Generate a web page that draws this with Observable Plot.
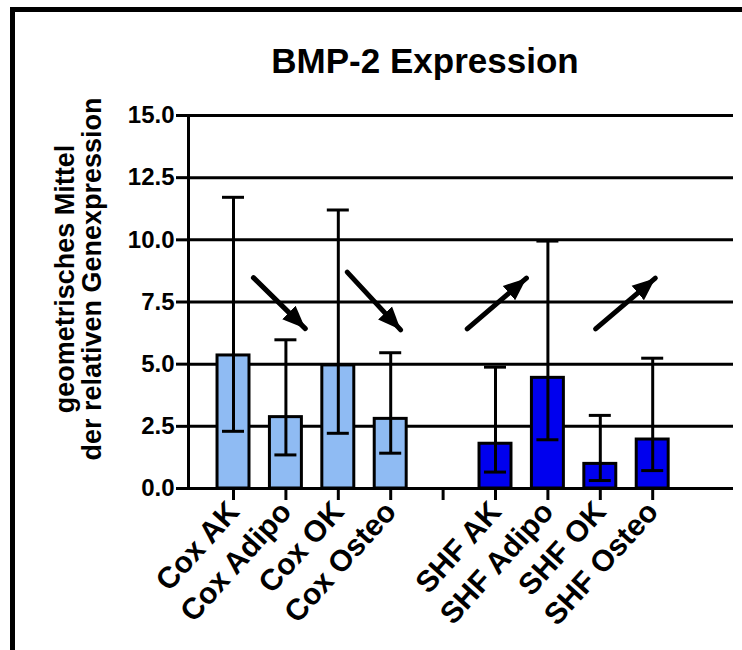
<!DOCTYPE html>
<html>
<head>
<meta charset="utf-8">
<script src="https://cdn.jsdelivr.net/npm/d3@7"></script>
<script src="https://cdn.jsdelivr.net/npm/@observablehq/plot@0.6"></script>
<style>
  body { margin: 0; background: #fff; font-family: "Liberation Sans", Arial, sans-serif; }
  #wrap { position: relative; width: 742px; height: 650px; overflow: hidden; background: #fff; }
  #frame { position: absolute; left: 10px; top: 7px; width: 800px; height: 700px;
           border-left: 5px solid #000; border-top: 5px solid #000; box-sizing: border-box; }
  #title { position: absolute; left: 425px; top: 43px; transform: translateX(-50%);
           font: bold 35px/35px "Liberation Sans", Arial, sans-serif; color: #000; white-space: nowrap; }
  #chart { position: absolute; left: 0; top: 90px; }
</style>
</head>
<body>
<div id="wrap">
  <div id="frame"></div>
  <div id="title">BMP-2 Expression</div>
  <div id="chart"></div>
</div>
<script>
// ---- data ----
const tickLabels = ["Cox AK", "Cox Adipo", "Cox OK", "Cox Osteo", "", "SHF AK", "SHF Adipo", "SHF OK", "SHF Osteo"];
const groups = ["Cox AK", "Cox Adipo", "Cox OK", "Cox Osteo", "SHF AK", "SHF Adipo", "SHF OK", "SHF Osteo"];
const series = ["Cox", "Cox", "Cox", "Cox", "SHF", "SHF", "SHF", "SHF"];
const means = [5.35, 2.87, 4.95, 2.80, 1.80, 4.45, 0.99, 1.97];
const upper = [11.71, 5.98, 11.2, 5.46, 4.88, 9.95, 2.94, 5.24];
const lower = [2.30, 1.35, 2.22, 1.42, 0.66, 1.96, 0.32, 0.72];
const yTicks = [0, 2.5, 5, 7.5, 10, 12.5, 15];
const seriesNames = ["Cox", "SHF"];
const seriesColors = ["#8fbbf3", "#0000ee"];
// trend arrows (annotation, in data units: slot index / expression value)
const arrowX1 = [0.38, 2.17, 4.46, 6.91];
const arrowY1 = [8.48, 8.70, 6.42, 6.42];
const arrowX2 = [1.37, 3.19, 5.59, 8.05];
const arrowY2 = [6.43, 6.38, 8.46, 8.46];
const yTitle = "geometrisches Mittel\nder relativen Genexpression";

// ---- build tables ----
const bars = groups.map((g, k) => ({
  group: g, slot: tickLabels.indexOf(g), series: series[k],
  mean: means[k], hi: upper[k], lo: lower[k]
}));
const arrows = arrowX1.map((_, k) => ({x1: arrowX1[k], y1: arrowY1[k], x2: arrowX2[k], y2: arrowY2[k]}));

const half = 0.305;   // half bar width in slot units
const capHalf = 0.21; // half cap width

function headMarker(color, context) {
  const m = d3.create("svg:marker")
    .attr("viewBox", "-13 -10 24 20")
    .attr("markerWidth", 24).attr("markerHeight", 20)
    .attr("markerUnits", "userSpaceOnUse")
    .attr("orient", "auto")
    .attr("refX", 10).attr("refY", 0);
  m.append("path").attr("d", "M-13,-9.5L10,0L-13,9.5Z").attr("fill", "black").attr("stroke", "none");
  return m.node();
}

const plot = Plot.plot({
  width: 742,
  height: 560,
  marginLeft: 188,
  marginRight: 9,
  marginTop: 25,
  marginBottom: 162,
  style: {fontFamily: "'Liberation Sans', Arial, sans-serif", color: "black", background: "transparent"},
  x: {type: "linear", domain: [-0.859, 9.542], axis: null},
  y: {domain: [0, 15], axis: null},
  color: {domain: seriesNames, range: seriesColors},
  marks: [
    Plot.ruleY(yTicks, {stroke: "black", strokeWidth: 3}),
    Plot.rectY(bars, {x1: d => d.slot - half, x2: d => d.slot + half, y: "mean",
      fill: "series", stroke: "black", strokeWidth: 3}),
    Plot.ruleX(bars, {x: "slot", y1: "lo", y2: "hi", stroke: "black", strokeWidth: 3}),
    Plot.ruleY(bars, {y: "hi", x1: d => d.slot - capHalf, x2: d => d.slot + capHalf, stroke: "black", strokeWidth: 3}),
    Plot.ruleY(bars, {y: "lo", x1: d => d.slot - capHalf, x2: d => d.slot + capHalf, stroke: "black", strokeWidth: 3}),
    Plot.ruleX([-0.859], {y1: yTicks[0], y2: yTicks[yTicks.length - 1], stroke: "black", strokeWidth: 3}),
    Plot.link(arrows, {x1: "x1", y1: "y1", x2: "x2", y2: "y2", stroke: "black",
      strokeWidth: 5, strokeLinecap: "round", markerEnd: headMarker}),
    Plot.axisY({ticks: yTicks, tickFormat: d3.format(".1f"), tickSize: 12, tickPadding: 2,
      fontSize: 24, fontWeight: "bold", strokeWidth: 3}),
    Plot.axisX({ticks: d3.range(tickLabels.length), tickFormat: i => tickLabels[i],
      tickRotate: -48, tickSize: 12, tickPadding: 6, fontSize: 30, fontWeight: "bold", strokeWidth: 3}),
    Plot.text([yTitle], {frameAnchor: "left", dx: -110, dy: -23, rotate: -90,
      fontSize: 27, fontWeight: "bold", lineHeight: 1.0, textAnchor: "middle", lineAnchor: "middle"})
  ]
});
document.getElementById("chart").appendChild(plot);
</script>
</body>
</html>
